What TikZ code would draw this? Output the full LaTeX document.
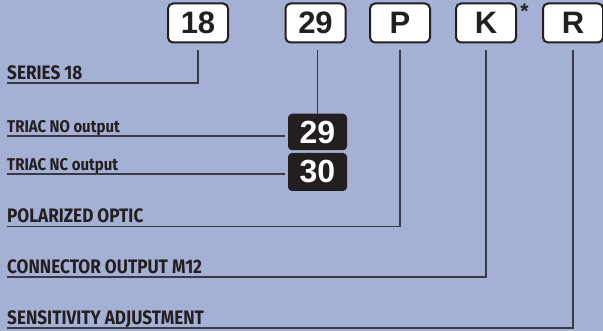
\documentclass[tikz,border=0pt]{standalone}
\usepackage{fontspec}
\setmainfont{Liberation Sans}
\newfontfamily\labelfont[FakeStretch=0.88]{Fira Sans}
\usetikzlibrary{positioning}
\definecolor{panelblue}{RGB}{165,177,212}
\definecolor{inkdark}{RGB}{35,31,32}
\definecolor{rulegray}{RGB}{58,58,66}

\begin{document}
\begin{tikzpicture}[
    x=1pt, y=-1pt,
    code box/.style={draw=inkdark, line width=2pt, rounded corners=5pt, fill=white, minimum width=60pt, minimum height=39pt, inner sep=0pt, text=inkdark, font=\fontsize{31}{31}\selectfont\bfseries},
    out box/.style={fill=inkdark, rounded corners=4pt, minimum width=59pt, minimum height=36.5pt, inner sep=0pt, text=white, font=\fontsize{32}{32}\selectfont\bfseries},
    tag label/.style={anchor=south west, inner xsep=0pt, inner ysep=3.5pt, text depth=0pt, text=inkdark, font=\labelfont\bfseries\fontsize{19.5}{19.5}\selectfont},
    small label/.style={tag label, font=\labelfont\bfseries\fontsize{17}{17}\selectfont},
    leader line/.style={draw=rulegray, line width=1.1pt}
]
    % background
    \fill[panelblue] (0,0) rectangle (603,331);
    \useasboundingbox (0,0) rectangle (603,331);

    % code boxes along the top
    \node[code box] (b18) at (198,23) {18};
    \node[code box] (b29) at (315.5,23) {29};
    \node[code box] (bP) at (400,23) {P};
    \node[code box] (bK) at (486,23) {K};
    \node[code box] (bR) at (573,23) {R};
    \node[inner sep=0pt, text=inkdark, font=\bfseries\fontsize{21}{21}\selectfont] (star) at (524.5,11) {*};

    % output choices
    \node[out box] (n29) at (317.5,132) {29};
    \node[out box, minimum height=38pt] (n30) at (317.5,172) {30};

    % labels
    \node[tag label] (series) at (7,83) {SERIES 18};
    \node[small label] (triacno) at (7,136) {TRIAC NO output};
    \node[small label] (triacnc) at (7,174) {TRIAC NC output};
    \node[tag label] (polar) at (7,226.5) {POLARIZED OPTIC};
    \node[tag label] (conn) at (7,277) {CONNECTOR OUTPUT M12};
    \node[tag label] (sens) at (7,328) {SENSITIVITY ADJUSTMENT};

    % leader lines
    \draw[leader line] (series.south west) -| ([yshift=-7pt]b18.south);
    \draw[leader line] ([yshift=-7pt]b29.south -| n29.north) -- (n29.north);
    \draw[leader line] (triacno.south west) -- ([xshift=-3pt]triacno.south west -| n29.west);
    \draw[leader line] (triacnc.south west) -- ([xshift=-3pt]triacnc.south west -| n30.west);
    \draw[leader line] (polar.south west) -| ([yshift=-7pt]bP.south);
    \draw[leader line] (conn.south west) -| ([yshift=-7pt]bK.south);
    \draw[leader line] (sens.south west) -| ([yshift=-7pt]bR.south);
\end{tikzpicture}
\end{document}
